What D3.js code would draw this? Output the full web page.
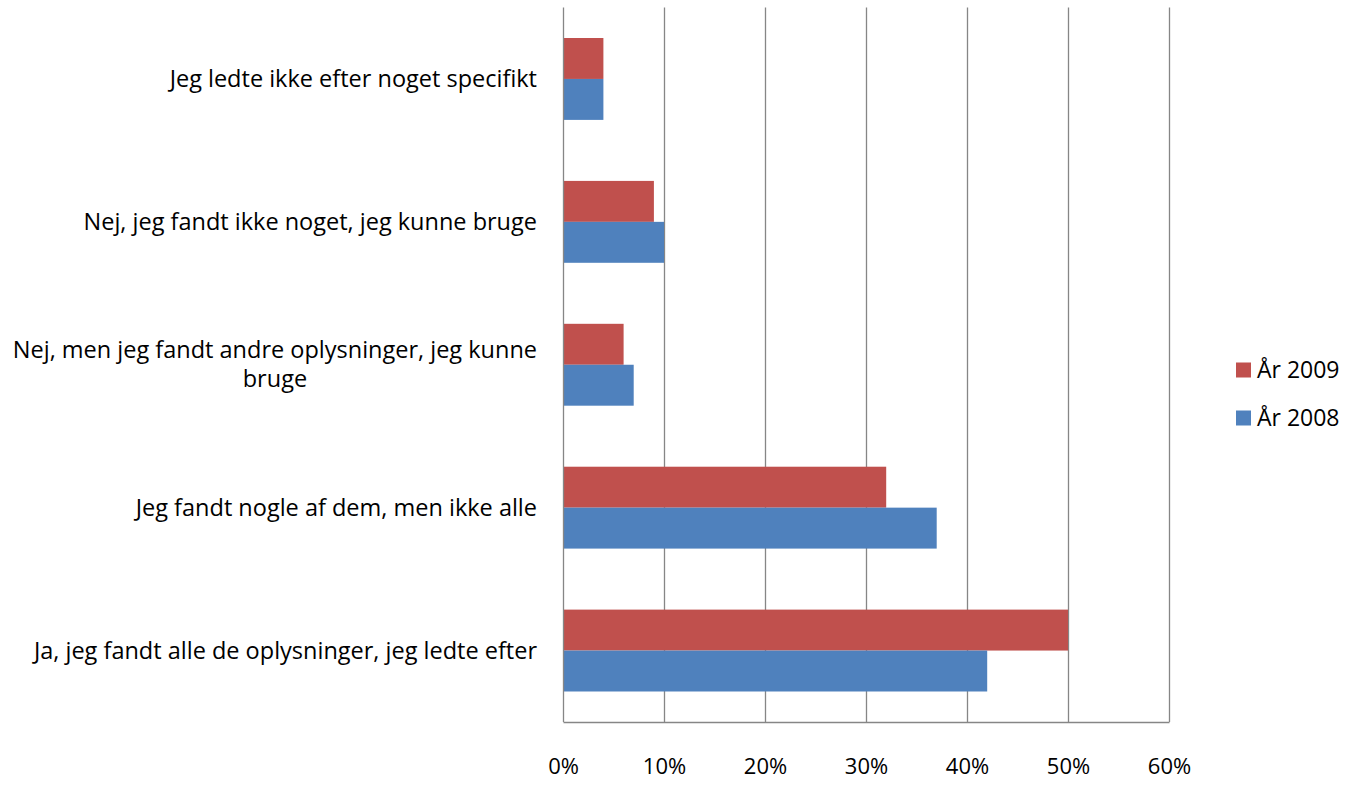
<!DOCTYPE html>
<html><head><meta charset="utf-8">
<script src="https://cdn.jsdelivr.net/npm/d3@7"></script>
<style>body{margin:0;background:#fff}svg{display:block}text{font-family:"Open Sans","Liberation Sans",sans-serif;fill:#000}</style>
</head><body><svg id="c" width="1345" height="786"></svg>
<script>
const categories = [
  "Jeg ledte ikke efter noget specifikt",
  "Nej, jeg fandt ikke noget, jeg kunne bruge",
  "Nej, men jeg fandt andre oplysninger, jeg kunne|bruge",
  "Jeg fandt nogle af dem, men ikke alle",
  "Ja, jeg fandt alle de oplysninger, jeg ledte efter"
];
const series = ["År 2009", "År 2008"];
const values2009 = [0.04, 0.09, 0.06, 0.32, 0.50];
const values2008 = [0.04, 0.10, 0.07, 0.37, 0.42];
const tickValues = [0, 0.1, 0.2, 0.3, 0.4, 0.5, 0.6];
const colors = ["#C0504D", "#4F81BD"];

const svg = d3.select("#c");
const L = 563, R = 1169, T = 7.5, B = 722;
const x = d3.scaleLinear().domain([0, 0.6]).range([L, R]);
const y = d3.scaleBand().domain(categories).range([T, B]).paddingInner(0.427).paddingOuter(0.2135);
const ys = d3.scaleBand().domain(series).range([0, y.bandwidth()]);

// gridlines
svg.append("g").selectAll("line").data(tickValues.slice(1)).join("line")
  .attr("x1", d => Math.round(x(d)) + 0.5).attr("x2", d => Math.round(x(d)) + 0.5)
  .attr("y1", T).attr("y2", B).attr("stroke", "#868686").attr("stroke-width", 1.3);

const data = [values2009, values2008];
series.forEach((s, si) => {
  svg.append("g").selectAll("rect").data(categories).join("rect")
    .attr("x", x(0)).attr("y", (c) => y(c) + ys(s))
    .attr("width", (c, i) => x(data[si][i]) - x(0))
    .attr("height", ys.bandwidth())
    .attr("fill", colors[si]);
});

// axes
const xa = svg.append("g").attr("transform", `translate(0,${B})`)
  .call(d3.axisBottom(x).tickValues(tickValues).tickFormat(d3.format(".0%")).tickSize(0).tickPadding(36));
xa.select(".domain").attr("stroke", "#868686").attr("stroke-width", 1.3);
xa.selectAll("text").style("font-size", "22px").attr("fill", "#000");
svg.append("line").attr("x1", L + 0.5).attr("x2", L + 0.5).attr("y1", T).attr("y2", B)
  .attr("stroke", "#868686").attr("stroke-width", 1.3);

// category labels
categories.forEach(c => {
  const lines = c.split("|");
  const g = svg.append("g");
  const cy = y(c) + y.bandwidth() / 2;
  const lh = 29;
  const texts = lines.map((t, i) => g.append("text").text(t)
    .attr("y", cy + (i - (lines.length - 1) / 2) * lh).attr("dy", "0.35em")
    .style("font-size", "23.5px"));
  const maxW = d3.max(texts, t => t.node().getComputedTextLength());
  const rx = 537;
  texts.forEach(t => t.attr("x", rx - maxW / 2).attr("text-anchor", "middle"));
});

// legend
const lg = svg.append("g");
series.forEach((s, i) => {
  const yy = 370 + i * 48;
  lg.append("rect").attr("x", 1236).attr("y", yy - 7.5).attr("width", 15).attr("height", 15).attr("fill", colors[i]);
  lg.append("text").attr("x", 1257).attr("y", yy).attr("dy", "0.35em").text(s).style("font-size", "23px");
});
</script></body></html>
